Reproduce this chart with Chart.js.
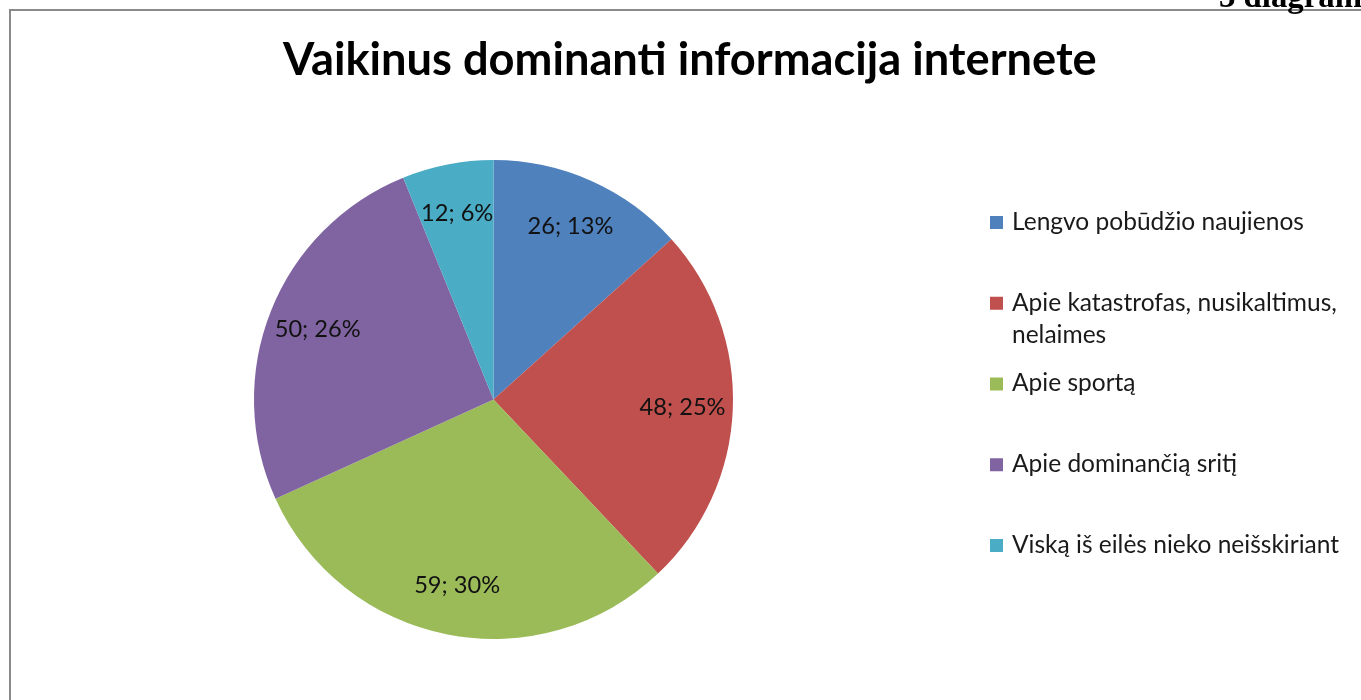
<!DOCTYPE html>
<html>
<head>
<meta charset="utf-8">
<script src="https://cdn.jsdelivr.net/npm/chart.js@4"></script>
<style>
  html, body { margin: 0; padding: 0; background: #fff; overflow: hidden; }
  canvas { display: block; }
</style>
</head>
<body>
<canvas id="chart" width="1361" height="700"></canvas>
<script>
var categories = [
  "Lengvo pobūdžio naujienos",
  "Apie katastrofas, nusikaltimus, nelaimes",
  "Apie sportą",
  "Apie dominančią sritį",
  "Viską iš eilės nieko neišskiriant"
];
var counts = [26, 48, 59, 50, 12];
var colors = ["#4F81BD", "#C0504D", "#9BBB59", "#8064A2", "#4BACC6"];
var title = "Vaikinus dominanti informacija internete";
var pageCaption = "3 diagrama";

var FONT = "Lato, 'Open Sans', sans-serif";

// pick a font size so that a sample string takes the given width
function fitSize(c, weight, family, sample, width) {
  c.font = weight + " 40px " + family;
  return 40 * width / c.measureText(sample).width;
}

// frame, page caption, title
var framePlugin = {
  id: "frame",
  beforeDraw: function (chart) {
    var c = chart.ctx;
    c.save();
    c.fillStyle = "#fff";
    c.fillRect(0, 0, chart.width, chart.height);
    c.fillStyle = "#8a8a8a";
    c.fillRect(9, 9, chart.width - 9, 2);
    c.fillRect(9, 9, 2, chart.height - 9);

    var serif = "'Liberation Serif', serif";
    var cs = fitSize(c, "bold", serif, "3 diagram", 143);
    c.font = "bold " + cs + "px " + serif;
    c.fillStyle = "#000";
    c.textBaseline = "alphabetic";
    c.fillText(pageCaption, 1219, 7);

    var ts = fitSize(c, "bold", FONT, title, 814);
    c.font = "bold " + ts + "px " + FONT;
    c.fillStyle = "#000";
    c.textAlign = "left";
    c.textBaseline = "alphabetic";
    c.fillText(title, 283, 75);
    c.restore();
  }
};

// "value; percent" labels inside the slices
var sliceLabels = {
  id: "sliceLabels",
  afterDatasetsDraw: function (chart) {
    var c = chart.ctx;
    var meta = chart.getDatasetMeta(0);
    var total = counts.reduce(function (a, b) { return a + b; }, 0);
    c.save();
    var fs = fitSize(c, "", FONT, "26; 13%", 86);
    c.font = fs + "px " + FONT;
    c.fillStyle = "#111";
    c.textAlign = "center";
    c.textBaseline = "middle";
    meta.data.forEach(function (arc, i) {
      var p = arc.getProps(["x", "y", "startAngle", "endAngle", "outerRadius"], true);
      var mid = (p.startAngle + p.endAngle) / 2;
      var r = p.outerRadius * 0.79;
      var pct = Math.round(counts[i] / total * 100);
      c.fillText(counts[i] + "; " + pct + "%", p.x + Math.cos(mid) * r, p.y + Math.sin(mid) * r);
    });
    c.restore();
  }
};

// legend on the right, wrapped like the original
var sideLegend = {
  id: "sideLegend",
  afterDraw: function (chart) {
    var c = chart.ctx;
    var x = 990, textX = 1012, maxW = 345, y0 = 222, step = 80.75, lineH = 32;
    c.save();
    var fs = fitSize(c, "", FONT, categories[0], 292);
    c.font = fs + "px " + FONT;
    c.textBaseline = "middle";
    categories.forEach(function (label, i) {
      var y = y0 + i * step;
      c.fillStyle = colors[i];
      c.fillRect(x, y - 6, 13, 13);
      c.fillStyle = "#1a1a1a";
      var words = label.split(" "), line = "", lines = [];
      words.forEach(function (wd) {
        var test = line ? line + " " + wd : wd;
        if (c.measureText(test).width > maxW && line) { lines.push(line); line = wd; }
        else line = test;
      });
      lines.push(line);
      lines.forEach(function (ln, k) { c.fillText(ln, textX, y + k * lineH); });
    });
    c.restore();
  }
};

var ctx = document.getElementById("chart");
var myChart = new Chart(ctx, {
  type: "pie",
  data: {
    labels: categories,
    datasets: [
      {
        data: counts,
        backgroundColor: colors,
        borderWidth: 0
      }
    ]
  },
  options: {
    responsive: false,
    animation: false,
    layout: { padding: { left: 254, top: 160, right: 628, bottom: 61 } },
    plugins: {
      legend: { display: false },
      title: { display: false },
      tooltip: { enabled: false }
    }
  },
  plugins: [framePlugin, sliceLabels, sideLegend]
});
</script>
</body>
</html>
